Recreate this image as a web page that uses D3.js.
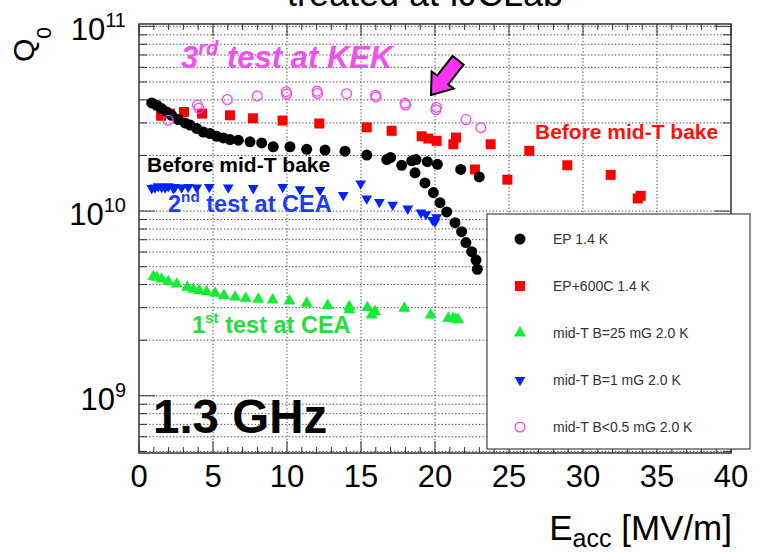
<!DOCTYPE html>
<html>
<head>
<meta charset="utf-8">
<script src="https://cdn.jsdelivr.net/npm/d3@7"></script>
<style>
  body { margin: 0; background: #fff; }
  svg text { font-family: "Liberation Sans", Arial, Helvetica, sans-serif; }
</style>
</head>
<body>
<div id="plot"></div>
<script>
// Q0 vs Eacc
let epX = [0.86,1.2,1.53,1.87,2.21,2.66,3.11,3.45,3.9,4.34,4.8,5.25,5.7,6.15,6.71,7.5,8.29,9.07,10.2,11.33,12.57,13.92,15.39,16.74,17.0,17.75,18.43,18.72,19.48,20.16,18.65,19.32,19.89,20.34,20.79,21.35,21.8,22.09,22.48,22.77,22.86,21.74,22.99];
let epQ = [3.85e10,3.74e10,3.59e10,3.44e10,3.30e10,3.13e10,3.0e10,2.92e10,2.80e10,2.68e10,2.63e10,2.54e10,2.49e10,2.44e10,2.42e10,2.37e10,2.34e10,2.23e10,2.23e10,2.16e10,2.14e10,2.11e10,2.01e10,1.90e10,1.95e10,1.77e10,1.87e10,1.90e10,1.85e10,1.79e10,1.61e10,1.42e10,1.26e10,1.11e10,9.9e9,8.65e9,7.73e9,6.75e9,6.03e9,5.43e9,4.84e9,1.68e10,1.53e10];

let ep600X = [1.49,2.09,3.04,4.26,6.15,7.7,9.7,12.18,15.39,17.07,19.1,19.55,20.11,21.42,21.24,23.76,26.37,22.7,24.89,28.94,31.87,33.7,33.9];
let ep600Q = [3.28e10,3.37e10,3.44e10,3.37e10,3.30e10,3.18e10,3.09e10,2.98e10,2.84e10,2.72e10,2.54e10,2.47e10,2.40e10,2.50e10,2.30e10,2.30e10,2.12e10,1.68e10,1.48e10,1.77e10,1.57e10,1.17e10,1.21e10];

let midT25X = [0.97,1.2,1.53,1.98,2.55,3.26,3.67,4.07,4.57,5.14,5.74,6.49,7.21,8.06,9.03,10.16,11.33,12.75,14.21,14.21,15.43,15.72,15.95,17.93,19.71,20.9,21.22,21.4,21.57];
let midT25Q = [4.42e9,4.38e9,4.28e9,4.15e9,4.03e9,3.87e9,3.77e9,3.71e9,3.66e9,3.59e9,3.49e9,3.42e9,3.37e9,3.33e9,3.30e9,3.26e9,3.17e9,3.08e9,3.04e9,2.92e9,3.0e9,2.74e9,2.86e9,2.98e9,2.74e9,2.63e9,2.62e9,2.6e9,2.58e9];

let midT1X = [0.86,1.08,1.3,1.53,1.76,1.98,2.32,2.43,2.88,3.33,3.9,4.75,6.03,7.72,9.71,10.88,12.23,13.8,14.98,15.39,16.24,17.14,18.16,19.05,19.39,19.84,20.11,20.0];
let midT1Q = [1.33e10,1.34e10,1.36e10,1.35e10,1.34e10,1.36e10,1.33e10,1.35e10,1.34e10,1.35e10,1.34e10,1.35e10,1.34e10,1.33e10,1.35e10,1.31e10,1.30e10,1.22e10,1.41e10,1.17e10,1.12e10,1.08e10,1.03e10,9.8e9,9.6e9,8.94e9,9.25e9,8.75e9];

let midT05X = [1.98,3.95,4.05,5.97,7.99,9.95,9.98,12.03,12.06,14.03,15.98,16.02,17.97,18.02,20.07,20.1,22.09,23.1];
let midT05Q = [3.1e10,3.75e10,3.6e10,4.02e10,4.20e10,4.43e10,4.3e10,4.46e10,4.33e10,4.32e10,4.24e10,4.15e10,3.84e10,3.75e10,3.54e10,3.65e10,3.13e10,2.83e10];

let xTicks = [0,5,10,15,20,25,30,35,40];
let yDecades = [9,10,11];
let legendLabels = ["EP 1.4 K","EP+600C 1.4 K","mid-T B=25 mG 2.0 K","mid-T B=1 mG 2.0 K","mid-T B<0.5 mG 2.0 K"];

let svgWidth = 760, svgHeight = 552;
let margin = { top: 24, right: 29, bottom: 99, left: 139 };
let width = svgWidth - margin.left - margin.right;
let height = svgHeight - margin.top - margin.bottom;

let x = d3.scaleLinear().domain([0,40]).range([0,width]);
let y = d3.scaleLog().domain([4.9e8,1.03e11]).range([height,0]);

let svg = d3.select('#plot').append('svg')
    .attr('width',svgWidth).attr('height',svgHeight);

// title is cut by the top edge in the original too
svg.append('text').attr('x',425).attr('y',6).attr('text-anchor','middle')
    .attr('font-size',36).text('treated at IJCLab');

let g = svg.append('g').attr('transform',`translate(${margin.left},${margin.top})`);

// grid
let minorY = [];
for (let e = 8; e <= 10; e++) for (let m = 1; m <= 9; m++) {
    let v = m * Math.pow(10,e);
    if (v >= 4.9e8 && v <= 1.03e11) minorY.push(v);
}
minorY.push(1e11);
g.selectAll('.hgrid').data(minorY).enter().append('line')
    .attr('x1',0).attr('x2',width).attr('y1',d=>y(d)).attr('y2',d=>y(d))
    .attr('stroke','#444').attr('stroke-width',1).attr('stroke-dasharray','1.3,2.1');
g.selectAll('.vgrid').data(xTicks.slice(1,-1)).enter().append('line')
    .attr('y1',0).attr('y2',height).attr('x1',d=>x(d)).attr('x2',d=>x(d))
    .attr('stroke','#444').attr('stroke-width',1).attr('stroke-dasharray','1.3,2.1');

// ROOT style ticks on all four sides
let xMinor = d3.range(0,41,1);
xMinor.forEach(function(v){
    let len = v % 5 === 0 ? 12 : 6;
    g.append('line').attr('x1',x(v)).attr('x2',x(v)).attr('y1',height).attr('y2',height-len).attr('stroke','#333');
    g.append('line').attr('x1',x(v)).attr('x2',x(v)).attr('y1',0).attr('y2',len).attr('stroke','#333');
});
minorY.forEach(function(v){
    let major = Math.abs(Math.log10(v) - Math.round(Math.log10(v))) < 1e-9;
    let len = major ? 16 : 8;
    g.append('line').attr('x1',0).attr('x2',len).attr('y1',y(v)).attr('y2',y(v)).attr('stroke','#333');
    g.append('line').attr('x1',width).attr('x2',width-len).attr('y1',y(v)).attr('y2',y(v)).attr('stroke','#333');
});

g.append('rect').attr('width',width).attr('height',height)
    .attr('fill','none').attr('stroke','#333').attr('stroke-width',1.5);

// tick labels
g.selectAll('.xl').data(xTicks).enter().append('text')
    .attr('x',d=>x(d)).attr('y',height+34).attr('text-anchor','middle')
    .attr('font-size',31).text(d=>d);

yDecades.forEach(function(e){
    let t = g.append('text').attr('x',-13).attr('y',y(Math.pow(10,e))+14)
        .attr('text-anchor','end').attr('font-size',31);
    t.append('tspan').text('10');
    t.append('tspan').attr('dy',-13).attr('font-size',20).text(e);
});

// axis titles
let xt = svg.append('text').attr('x',732).attr('y',540).attr('text-anchor','end').attr('font-size',35);
xt.append('tspan').text('E');
xt.append('tspan').attr('dy',7).attr('font-size',25).text('acc');
xt.append('tspan').attr('dy',-7).text(' [MV/m]');

let yt = svg.append('text').attr('transform','translate(34,62) rotate(-90)').attr('font-size',30);
yt.append('tspan').text('Q');
yt.append('tspan').attr('dy',17).attr('font-size',21).text('0');

// series
function drawSeries(xs, qs, sym, size, fill, stroke, rot) {
    let pts = xs.map((v,i) => ({ x: v, q: qs[i] }));
    g.selectAll(null).data(pts).enter().append('path')
        .attr('d', d3.symbol().type(sym).size(size))
        .attr('transform', d => `translate(${x(d.x)},${y(d.q)}) rotate(${rot||0})`)
        .attr('fill', fill)
        .attr('stroke', stroke || 'none')
        .attr('stroke-width', 1.3);
}
drawSeries(ep600X, ep600Q, d3.symbolSquare, 100, '#ff0000');
drawSeries(epX, epQ, d3.symbolCircle, 95, '#000');
drawSeries(midT25X, midT25Q, d3.symbolTriangle, 62, '#11ee33');
drawSeries(midT1X, midT1Q, d3.symbolTriangle, 50, '#0022ff', null, 180);
drawSeries(midT05X, midT05Q, d3.symbolCircle, 75, 'none', '#ff44ee');

// annotations
function supText(sel, px, py, size, color, base, sup, rest, style) {
    let t = sel.append('text').attr('x',px).attr('y',py).attr('font-size',size)
        .attr('font-weight','bold').attr('fill',color);
    if (style) t.attr('font-style',style);
    t.append('tspan').text(base);
    t.append('tspan').attr('dy',-size*0.42).attr('font-size',size*0.65).text(sup);
    t.append('tspan').attr('dy',size*0.42).text(rest);
}
supText(svg, 181, 68, 31, '#f24ff0', '3', 'rd', ' test at KEK', 'italic');
supText(svg, 168, 212, 23.5, '#1a3cff', '2', 'nd', ' test at CEA');
supText(svg, 192, 333, 23.5, '#22e03c', '1', 'st', ' test at CEA');

svg.append('text').attr('x',147).attr('y',172).attr('font-size',21)
    .attr('font-weight','bold').attr('fill','#000').text('Before mid-T bake');
svg.append('text').attr('x',535).attr('y',139).attr('font-size',21)
    .attr('font-weight','bold').attr('fill','#ff1010').text('Before mid-T bake');
svg.append('text').attr('x',153).attr('y',433).attr('font-size',47.5)
    .attr('font-weight','bold').attr('fill','#000').text('1.3 GHz');

// arrow pointing at the 20 MV/m KEK point
svg.append('path')
    .attr('d','M0,0 L-19,-14 L-19,-7 L-44,-7 L-44,7 L-19,7 L-19,14 Z')
    .attr('transform','translate(431,95) rotate(128)')
    .attr('fill','#ff33ee').attr('stroke','#000').attr('stroke-width',2).attr('stroke-linejoin','miter');

// legend
let lg = svg.append('g');
lg.append('rect').attr('x',487).attr('y',214).attr('width',263).attr('height',235)
    .attr('fill','#fff').attr('stroke','#444').attr('stroke-width',1.2);
let legendSym = [
    { type: d3.symbolCircle, size: 95, fill: '#000' },
    { type: d3.symbolSquare, size: 100, fill: '#ff0000' },
    { type: d3.symbolTriangle, size: 62, fill: '#11ee33' },
    { type: d3.symbolTriangle, size: 50, fill: '#0022ff', rot: 180 },
    { type: d3.symbolCircle, size: 75, fill: 'none', stroke: '#ff44ee' }
];
legendLabels.forEach(function(l, i){
    let ly = 239 + i * 47;
    let s = legendSym[i];
    lg.append('path').attr('d', d3.symbol().type(s.type).size(s.size))
        .attr('transform', `translate(520,${ly}) rotate(${s.rot||0})`)
        .attr('fill', s.fill).attr('stroke', s.stroke || 'none').attr('stroke-width',1.3);
    lg.append('text').attr('x',553).attr('y',ly+5).attr('font-size',14)
        .attr('fill','#333').text(l);
});
</script>
</body>
</html>
